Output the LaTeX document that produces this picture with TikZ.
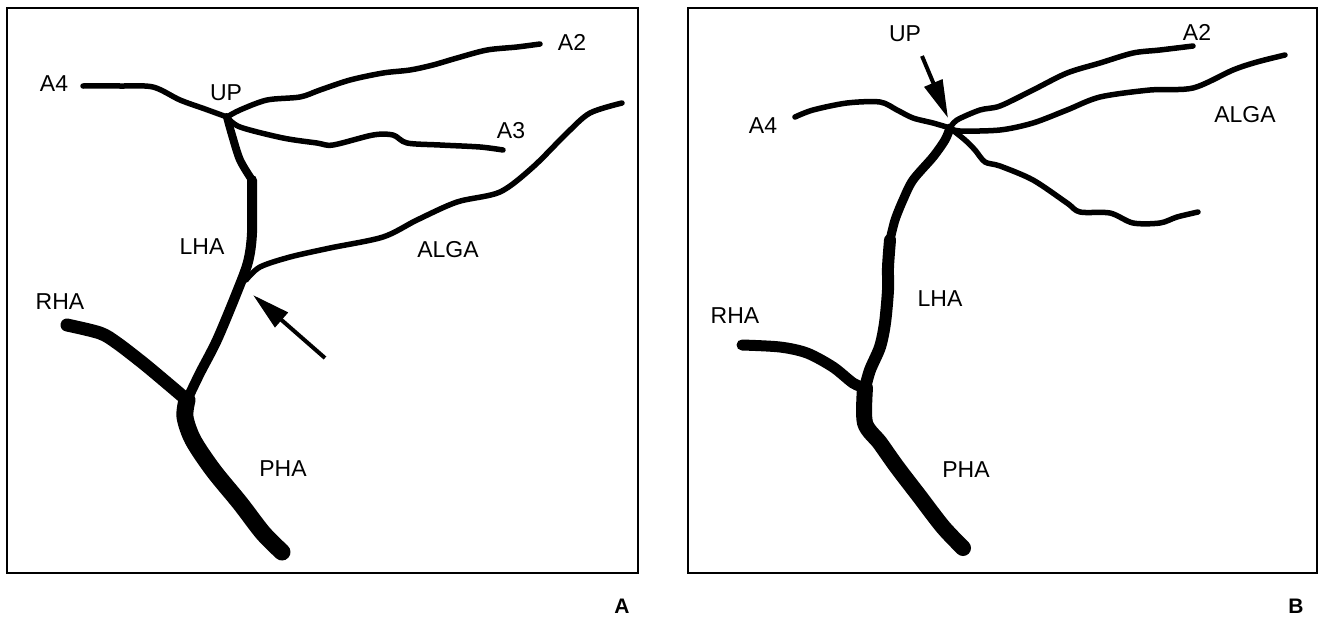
\documentclass[tikz,border=0pt]{standalone}
\usepackage{fontspec}
\setmainfont{Liberation Sans}
\usetikzlibrary{arrows.meta}

\begin{document}
\begin{tikzpicture}[x=1pt,y=-1pt,
	vessel/.style={line width=5.5pt,line cap=round,line join=round},
	lbl/.style={font=\fontsize{23}{26}\selectfont,inner sep=0pt},
	panel/.style={font=\bfseries\fontsize{21}{24}\selectfont,inner sep=0pt},
	pointer/.style={line width=4pt,-{Triangle[length=38pt,width=19pt]}}]
	\useasboundingbox (0,0) rectangle (1322,616);
	%left image
	\draw[line width=2pt] (7,8) rectangle (638,573);
	\coordinate (upA) at (227,117);
	\coordinate (forkA) at (187,400);
	\draw[vessel] plot[smooth,tension=0.5] coordinates {(83,86) (120,86) (153,87) (180,100) (205,109) (upA)};
	\draw[vessel] plot[smooth,tension=0.5] coordinates {(upA) (240,110) (267,100) (300,97) (320,90) (350,80) (383,73) (410,70) (433,65) (457,58) (487,50) (517,47) (540,44)};
	\draw[vessel] plot[smooth,tension=0.5] coordinates {(upA) (240,127) (283,138) (317,143) (333,145) (373,135) (393,135) (407,143) (440,145) (480,147) (503,150)};
	\draw[vessel] plot[smooth,tension=0.5] coordinates {(246,280) (260,267) (290,257) (330,248) (383,237) (417,220) (457,202) (500,192) (533,167) (567,133) (590,113) (622,103)};
	\draw[vessel,line width=8pt] plot[smooth,tension=0.5] coordinates {(upA) (232,135) (240,160) (252,180)};
	\draw[vessel,line width=10pt] plot[smooth,tension=0.5] coordinates {(252,180) (252,233) (248,262) (237,292) (217,340) (200,373) (forkA)};
	\draw[vessel,line width=13pt] plot[smooth,tension=0.5] coordinates {(67,325) (100,333) (117,343) (143,363) (167,383) (forkA)};
	\draw[vessel,line width=17pt] plot[smooth,tension=0.5] coordinates {(forkA) (185,417) (193,440) (213,470) (240,503) (263,533) (282,552)};
	\coordinate (tailA) at (325,358);
	\coordinate (tipA) at (253,295);
	\draw[pointer] (tailA) -- (tipA);
	\node[lbl] (a4A) at (54,84) {A4};
	\node[lbl] (upAlbl) at (226,93) {UP};
	\node[lbl] (a2A) at (572,42) {A2};
	\node[lbl] (a3A) at (511,131) {A3};
	\node[lbl] (lhaA) at (202,247) {LHA};
	\node[lbl] (algaA) at (448,250) {ALGA};
	\node[lbl] (rhaA) at (60,302) {RHA};
	\node[lbl] (phaA) at (283,469) {PHA};
	\node[panel] (nameA) at (622,606) {A};
	%right image
	\draw[line width=2pt] (688,8) rectangle (1317,573);
	\coordinate (upB) at (950,128);
	\coordinate (forkB) at (865,388);
	\draw[vessel] plot[smooth,tension=0.5] coordinates {(795,117) (813,110) (847,103) (880,102) (897,110) (913,118) (933,123) (upB)};
	\draw[vessel] plot[smooth,tension=0.5] coordinates {(upB) (957,120) (980,110) (1000,106) (1033,90) (1067,73) (1100,63) (1133,53) (1160,50) (1193,46)};
	\draw[vessel] plot[smooth,tension=0.5] coordinates {(upB) (960,131) (1000,130) (1033,123) (1067,110) (1100,97) (1150,90) (1193,88) (1233,70) (1257,62) (1285,55)};
	\draw[vessel] plot[smooth,tension=0.5] coordinates {(upB) (965,140) (975,150) (985,162) (1000,166) (1033,180) (1067,203) (1080,212) (1110,213) (1133,223) (1160,223) (1177,217) (1198,212)};
	\draw[vessel,line width=9pt] plot[smooth,tension=0.5] coordinates {(upB) (945,140) (933,157) (913,180) (903,200) (895,220) (890,240)};
	\draw[vessel,line width=12pt] plot[smooth,tension=0.5] coordinates {(890,240) (888,267) (888,290) (885,323) (880,347) (870,370) (forkB)};
	\draw[vessel,line width=11pt] plot[smooth,tension=0.5] coordinates {(742,345) (780,347) (807,353) (833,367) (853,383) (forkB)};
	\draw[vessel,line width=16pt] plot[smooth,tension=0.5] coordinates {(forkB) (865,423) (880,443) (897,467) (920,497) (943,527) (963,548)};
	\coordinate (tailB) at (922,56);
	\coordinate (tipB) at (948,118);
	\draw[pointer] (tailB) -- (tipB);
	\node[lbl] (upBlbl) at (905,34) {UP};
	\node[lbl] (a4B) at (763,126) {A4};
	\node[lbl] (a2B) at (1197,32) {A2};
	\node[lbl] (algaB) at (1245,115) {ALGA};
	\node[lbl] (lhaB) at (940,299) {LHA};
	\node[lbl] (rhaB) at (735,316) {RHA};
	\node[lbl] (phaB) at (966,470) {PHA};
	\node[panel] (nameB) at (1296,606) {B};
\end{tikzpicture}
\end{document}
